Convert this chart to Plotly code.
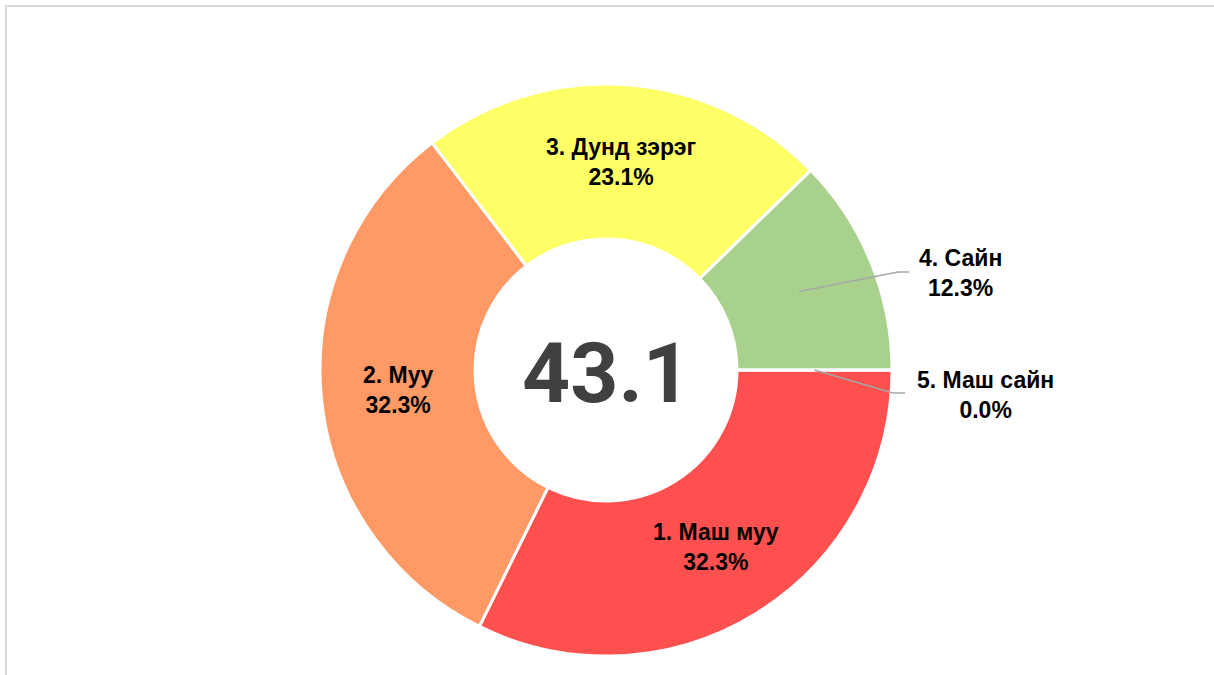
import math
import plotly.graph_objects as go

categories = ["1. Маш муу", "2. Муу", "3. Дунд зэрэг", "4. Сайн", "5. Маш сайн"]
values = [32.3, 32.3, 23.1, 12.3, 0.0]
colors = ["#FF5050", "#FF9966", "#FFFF66", "#A9D18E", "#A9D18E"]
center_value = "43.1"

W, H = 1214, 675
CX, CY, R = 606, 370, 286
HOLE = 0.458
ROT = 90  # first slice starts at 3 o'clock

fig = go.Figure(go.Pie(
    labels=categories, values=values, sort=False, direction="clockwise",
    rotation=ROT, hole=HOLE, textinfo="none", hoverinfo="label+percent",
    marker=dict(colors=colors, line=dict(color="white", width=3)),
    domain=dict(x=[(CX - R) / W, (CX + R) / W], y=[(H - CY - R) / H, (H - CY + R) / H]),
    showlegend=False,
))

def px(x, y):
    return x / W, 1 - y / H

total = sum(values)
rmid = R * (1 + HOLE) / 2
cum = 0.0
tips = []
for v in values:
    mid = ROT + (cum + v / 2) / total * 360
    a = math.radians(mid)
    tips.append((CX + rmid * math.sin(a), CY - rmid * math.cos(a)))
    cum += v

lab_font = dict(family="Arial", size=23, color="black", weight=700)
annotations = []
shapes = []

def label(i, pos):
    x, y = px(*pos)
    annotations.append(dict(x=x, y=y, xref="paper", yref="paper", showarrow=False,
                            xanchor="center", yanchor="middle",
                            text=f"{categories[i]}<br>{values[i]:.1f}%",
                            font=lab_font, align="center"))

# inside labels
for i in range(3):
    label(i, tips[i])
# outside labels with leader lines (label positions are layout choices)
outside = {3: ((960, 273), (898, 272), (909, 272)), 4: ((985, 395), (893, 393), (905, 393))}
for i, (tc, bend, end) in outside.items():
    pts = [tips[i], bend, end]
    path = "M " + " L ".join(f"{p[0]/W},{1-p[1]/H}" for p in pts)
    shapes.append(dict(type="path", xref="paper", yref="paper", path=path,
                       line=dict(color="#A6A6A6", width=1.5)))
    label(i, tc)

x, y = px(CX, 373)
annotations.append(dict(x=x, y=y, xref="paper", yref="paper", showarrow=False,
                        xanchor="center", yanchor="middle", text=center_value,
                        font=dict(family="Roboto", size=84, color="#404040", weight=700)))

shapes.append(dict(type="rect", xref="paper", yref="paper", x0=6 / W, x1=1.02,
                   y0=-0.02, y1=1 - 6 / H, line=dict(color="#D9D9D9", width=2)))

fig.update_layout(width=W, height=H, margin=dict(l=0, r=0, t=0, b=0),
                  paper_bgcolor="white", plot_bgcolor="white",
                  annotations=annotations, shapes=shapes)
fig.write_html("out.html", config={"displayModeBar": False},
               post_script="document.body.style.margin='0';document.body.style.overflow='hidden';")
